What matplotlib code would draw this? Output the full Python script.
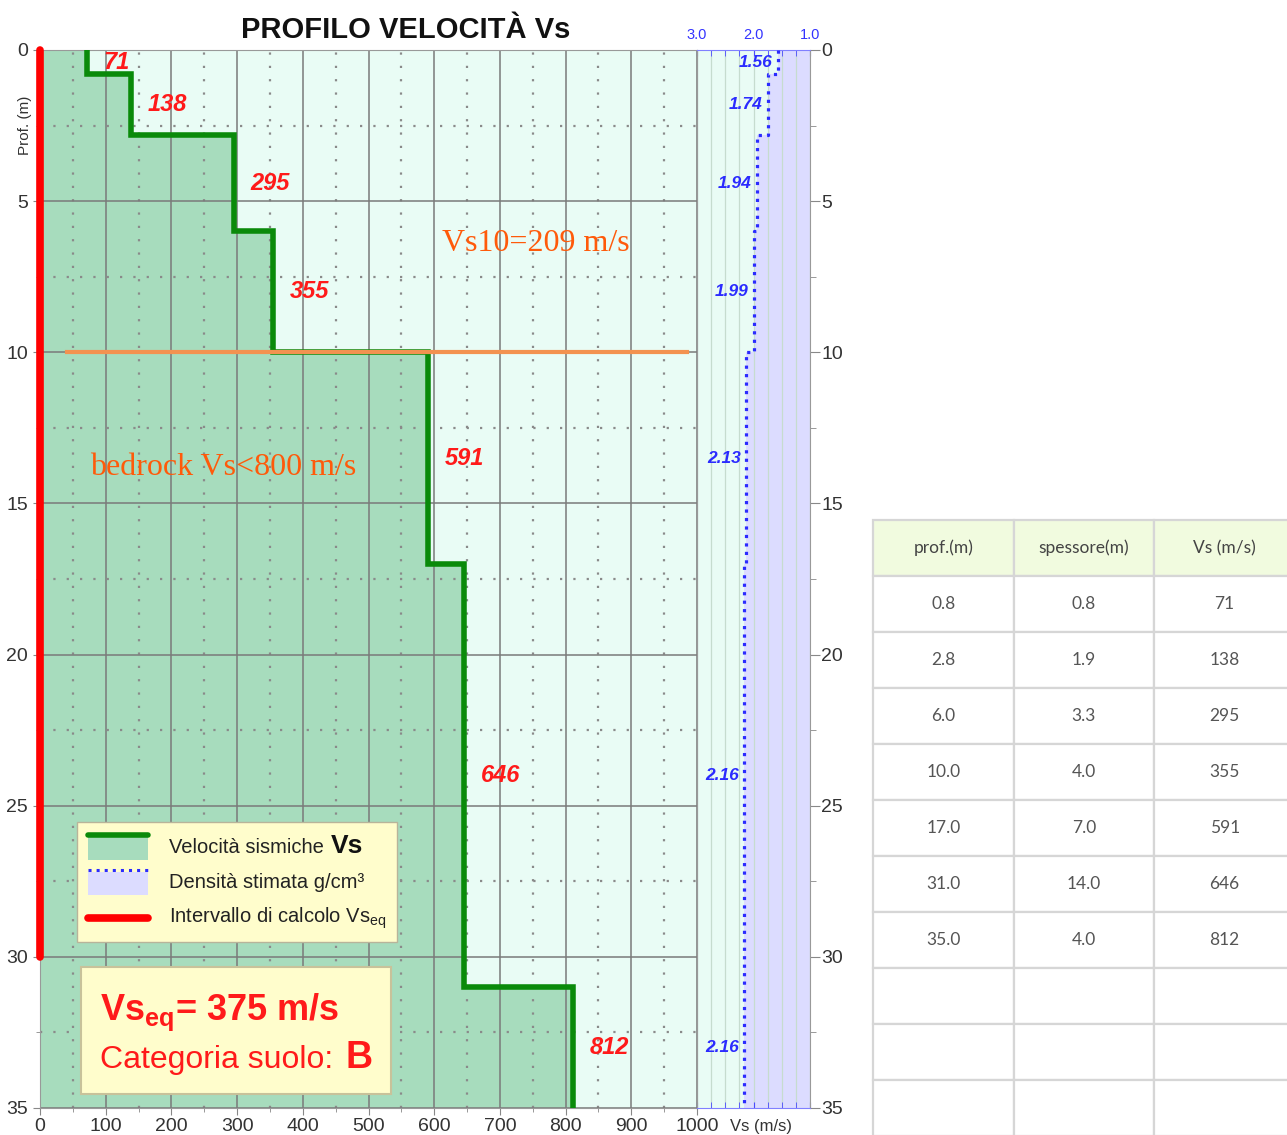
import matplotlib
matplotlib.use('Agg')
import matplotlib.pyplot as plt
from matplotlib.patches import Rectangle
from matplotlib.lines import Line2D
from matplotlib.ticker import MultipleLocator, FixedLocator

plt.rcParams['font.family'] = ['Liberation Sans', 'DejaVu Sans']
plt.rcParams['mathtext.fontset'] = 'custom'
plt.rcParams['mathtext.rm'] = 'Liberation Sans'
plt.rcParams['mathtext.bf'] = 'Liberation Sans:bold'
plt.rcParams['mathtext.it'] = 'Liberation Sans:italic'

# layer data
depth_bottom = [0.8, 2.8, 6.0, 10.0, 17.0, 31.0, 35.0]
thickness = [0.8, 1.9, 3.3, 4.0, 7.0, 14.0, 4.0]
vs = [71, 138, 295, 355, 591, 646, 812]
density = [1.56, 1.74, 1.94, 1.99, 2.13, 2.16, 2.16]

vs_eq = 375
soil_cat = 'B'
vs10 = 209
vs10_depth = 10
calc_interval = [0, 30]

table_header = ['prof.(m)', 'spessore(m)', 'Vs (m/s)']
n_empty_rows = 3

depth_top = [0] + depth_bottom[:-1]
depth_mid = [(a + b) / 2 for a, b in zip(depth_top, depth_bottom)]

# step profiles
prof_z, prof_v, prof_d = [], [], []
for t, b, v, d in zip(depth_top, depth_bottom, vs, density):
    prof_z += [t, b]
    prof_v += [v, v]
    prof_d += [d, d]

GREEN_FILL = '#a7dcbd'
BG = '#e9fcf5'
LAVENDER = '#dcdcff'
RED = '#ff1a1a'
ORANGE_TXT = '#ff5a0a'
BLUE = '#2b2bff'


class FillLineHandler:
    def __init__(self, fill, color, ls='-', lw=4):
        self.fill = fill
        self.color = color
        self.ls = ls
        self.lw = lw

    def legend_artist(self, legend, orig_handle, fontsize, handlebox):
        x0, y0 = -handlebox.xdescent, -handlebox.ydescent
        w, h = handlebox.width, handlebox.height
        tr = handlebox.get_transform()
        if self.fill:
            rect = Rectangle((x0, y0), w, h * 0.86, fc=self.fill, ec='none', transform=tr)
            handlebox.add_artist(rect)
            ly = y0 + h * 0.93
        else:
            ly = y0 + h * 0.45
        ln = Line2D([x0, x0 + w], [ly, ly], color=self.color, ls=self.ls, lw=self.lw,
                    solid_capstyle='round', transform=tr)
        handlebox.add_artist(ln)
        return ln


fig = plt.figure(figsize=(12.87, 11.35), dpi=100)
W, H = 1287, 1135
L, R, T, B = 40, 697, 50, 1108
ax = fig.add_axes([L / W, (H - B) / H, (R - L) / W, (B - T) / H])
ax2 = fig.add_axes([R / W, (H - B) / H, (810 - R) / W, (B - T) / H])

# main velocity panel
ax.set_facecolor(BG)
h_fill = ax.fill_betweenx(prof_z, 0, prof_v, color=GREEN_FILL, lw=0, zorder=1)
ax.plot(prof_v, prof_z, color='#0a8a0a', lw=4, zorder=3, solid_joinstyle='miter')
ax.set_xlim(0, 1000)
ax.set_ylim(35, 0)
ax.xaxis.set_major_locator(MultipleLocator(100))
ax.xaxis.set_minor_locator(MultipleLocator(50))
ax.yaxis.set_major_locator(MultipleLocator(5))
ax.yaxis.set_minor_locator(MultipleLocator(2.5))
ax.grid(which='major', color='#7a7a7a', lw=1.1, zorder=1.5)
ax.grid(which='minor', color='#8a8a8a', lw=1.6, ls=(0, (1, 5)), zorder=1.5)
ax.tick_params(which='both', colors='#888888', labelcolor='#333333', labelsize=14, direction='out')
ax.tick_params(which='major', length=5)
ax.tick_params(which='minor', length=3)
ax.tick_params(axis='x', pad=2)
for s in ax.spines.values():
    s.set_color('#999999')

h_red, = ax.plot([0, 0], calc_interval, color='#ff0000', lw=5.5, solid_capstyle='round',
                 clip_on=False, zorder=4)
ax.axhline(vs10_depth, xmin=0.041, xmax=0.985, color='#f39250', lw=3, zorder=3)

for v, zm in zip(vs, depth_mid):
    ax.annotate(str(v), xy=(v, zm), xytext=(12, 0), textcoords='offset points',
                ha='left', va='center', color=RED, fontsize=17, fontweight='bold',
                fontstyle='italic', zorder=5)

ax.text(612, 6.4, 'Vs10=%d m/s' % vs10, color=ORANGE_TXT, fontsize=23,
        family='Liberation Serif', va='center', ha='left', zorder=5)
ax.text(76, 13.8, 'bedrock Vs<800 m/s', color=ORANGE_TXT, fontsize=23,
        family='Liberation Serif', va='center', ha='left', zorder=5)

# legend
h_dens_proxy = Rectangle((0, 0), 1, 1)
leg = ax.legend([h_fill, h_dens_proxy, h_red],
                ['Velocità sismiche', 'Densità stimata g/cm³', r'Intervallo di calcolo Vs$_{\mathrm{eq}}$'],
                handler_map={h_fill: FillLineHandler(GREEN_FILL, '#0a8a0a', lw=4),
                             h_dens_proxy: FillLineHandler(LAVENDER, BLUE, ls=':', lw=2.2),
                             h_red: FillLineHandler(None, '#ff0000', lw=5.5)},
                loc='upper left', bbox_to_anchor=(0.0563, 0.2703), borderaxespad=0,
                fontsize=14.5, handlelength=3.0, handleheight=1.65, labelspacing=0.42,
                handletextpad=1.0, borderpad=0.55, fancybox=False, framealpha=1,
                facecolor='#fffdcc', edgecolor='#b8b49a')
leg.set_zorder(6)
for t in leg.get_texts():
    t.set_color('#222222')
ax.annotate('Vs', xy=(1, 0), xycoords=leg.get_texts()[0], xytext=(5, -1),
            textcoords='offset points', ha='left', va='bottom', fontsize=19,
            fontweight='bold', color='#111111', zorder=7)

# Vs_eq box
ax.add_patch(Rectangle((0.0624, 0.0132), 0.4718, 0.1201, transform=ax.transAxes,
                       fc='#fffdcc', ec='#c8c29a', lw=1.5, zorder=6))
ax.text(0.091, 0.083, r'Vs$_{\mathbf{eq}}$= %d m/s' % vs_eq, transform=ax.transAxes,
        color=RED, fontsize=26, fontweight='bold', va='baseline', ha='left', zorder=7)
t_cat = ax.text(0.091, 0.038, 'Categoria suolo:', transform=ax.transAxes,
                color=RED, fontsize=23, va='baseline', ha='left', zorder=7)
ax.annotate(soil_cat, xy=(1, 0.038), xycoords=(t_cat, 'axes fraction'), xytext=(9, 0),
            textcoords='offset points', color=RED, fontsize=27, fontweight='bold',
            va='baseline', ha='left', zorder=7)

# density panel
ax2.set_facecolor(BG)
ax2.fill_betweenx(prof_z, prof_d, 1.0, color=LAVENDER, lw=0, zorder=1)
ax2.plot(prof_d, prof_z, color=BLUE, ls=':', lw=2.3, zorder=3)
ax2.set_xlim(3.0, 1.0)
ax2.set_ylim(35, 0)
ax2.xaxis.set_major_locator(FixedLocator([3.0, 2.0, 1.0]))
ax2.xaxis.set_minor_locator(MultipleLocator(0.25))
ax2.grid(which='both', axis='x', color='#c6dccf', lw=0.9, zorder=0.5)
ax2.xaxis.set_ticks_position('both')
ax2.tick_params(axis='x', which='both', direction='in', colors='#4a4aff', labelcolor='#3333ff',
                labelbottom=False, labeltop=True, labelsize=10.5, length=4, pad=6)
ax2.yaxis.set_major_locator(MultipleLocator(5))
ax2.yaxis.set_minor_locator(MultipleLocator(2.5))
ax2.yaxis.tick_right()
ax2.tick_params(axis='y', which='both', colors='#888888', labelcolor='#333333', labelsize=14,
                direction='out', pad=1)
ax2.tick_params(axis='y', which='major', length=7)
ax2.tick_params(axis='y', which='minor', length=4)
ax2.xaxis.set_major_formatter(lambda x, p: '%.1f' % x)
ax2.spines['top'].set_color('#8080ff')
ax2.spines['bottom'].set_color('#8080ff')
ax2.spines['left'].set_color('#999999')
ax2.spines['right'].set_color('#999999')

for d, zm in zip(density, depth_mid):
    ax2.annotate('%.2f' % d, xy=(d, zm), xytext=(-4, 0), textcoords='offset points',
                 ha='right', va='center', color=BLUE, fontsize=12.5, fontweight='bold',
                 fontstyle='italic', zorder=5)

# titles and labels
fig.text(406 / W, 1 - 30 / H, 'PROFILO VELOCITÀ Vs', ha='center', va='center',
         fontsize=21, fontweight='bold', color='#111111')
fig.text(25 / W, 1 - 125 / H, 'Prof. (m)', rotation=90, ha='center', va='center',
         fontsize=11, color='#333333')
fig.text(730 / W, 1 - 1127 / H, 'Vs (m/s)', ha='left', va='center', fontsize=12,
         color='#333333')

# table on the right
cell_text = [['%.1f' % z, '%.1f' % s, '%d' % v] for z, s, v in zip(depth_bottom, thickness, vs)]
cell_text += [['', '', ''] for _ in range(n_empty_rows)]
axt = fig.add_axes([873 / W, (H - 1136) / H, 422 / W, (1136 - 520) / H])
axt.axis('off')
tbl = axt.table(cellText=cell_text, colLabels=table_header, cellLoc='center',
                bbox=[0, 0, 1, 1])
tbl.auto_set_font_size(False)
for (r, c), cell in tbl.get_celld().items():
    cell.set_edgecolor('#d6d6d6')
    cell.set_linewidth(1.6)
    cell.get_text().set_fontsize(12.5)
    cell.get_text().set_family('Lato')
    cell.get_text().set_color('#555555')
    if r == 0:
        cell.set_facecolor('#f1fbdf')
        cell.get_text().set_color('#444444')

fig.savefig('out.png', dpi=100)
